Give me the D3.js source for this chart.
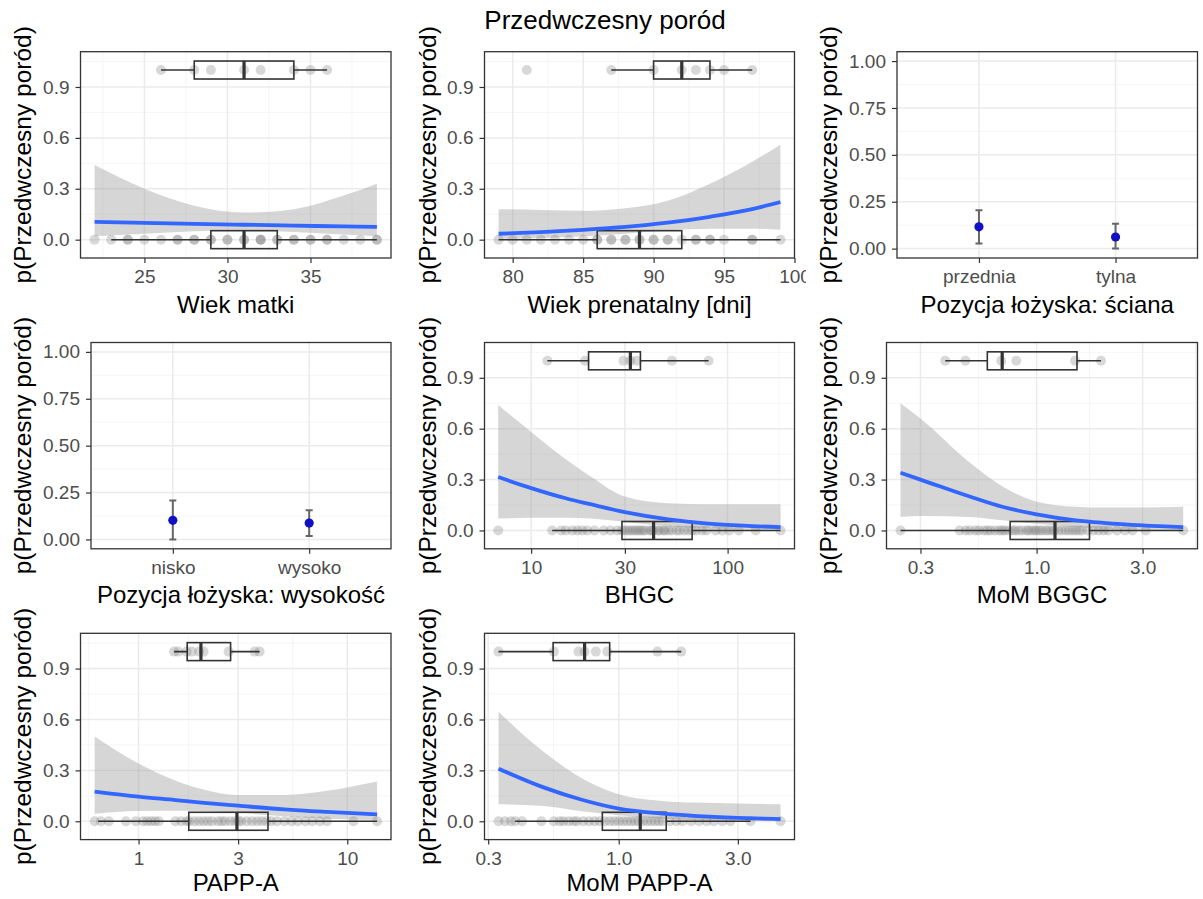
<!DOCTYPE html>
<html>
<head>
<meta charset="utf-8">
<script src="https://cdn.jsdelivr.net/npm/d3@7"></script>
<style>
  body { margin: 0; background: #fff; }
  text { font-family: "Liberation Sans", Arial, sans-serif; }
</style>
</head>
<body>
<div id="chart"></div>
<script>
// ---- data ----
const yTitle = 'p(Przedwczesny poród)';
const mainTitle = 'Przedwczesny poród';

// Wiek matki
const agePts0 = [22, 23, 24, 24, 25, 26, 27, 27, 28, 28, 29, 29, 30, 30, 31, 31, 32, 32, 32, 33, 33, 34, 34, 35, 35, 36, 36, 37, 38, 39, 39];
const agePts1 = [26, 28, 29, 31, 32, 34, 35, 36];
const ageBox0 = [23, 29, 31, 33, 39];
const ageBox1 = [26, 28, 31, 34, 36];
const ageFitX = [22, 25, 28, 31, 34, 37, 39];
const ageFit = [0.105, 0.099, 0.093, 0.088, 0.083, 0.078, 0.075];
const ageLo = [0.02, 0.035, 0.05, 0.055, 0.045, 0.03, 0.02];
const ageHi = [0.44, 0.30, 0.20, 0.16, 0.18, 0.26, 0.33];

// Wiek prenatalny [dni]
const gaPts0 = [79, 80, 81, 82, 83, 84, 85, 86, 86, 87, 87, 88, 88, 89, 89, 90, 90, 91, 91, 92, 93, 93, 94, 94, 95, 97, 97, 99];
const gaPts1 = [81, 87, 90, 92, 93, 94, 95, 97];
const gaBox0 = [79, 86, 89, 92, 99];
const gaBox1 = [87, 90, 92, 94, 97];
const gaFitX = [79, 82, 85, 88, 91, 94, 97, 99];
const gaFit = [0.035, 0.045, 0.058, 0.075, 0.10, 0.135, 0.18, 0.222];
const gaLo = [0.005, 0.01, 0.02, 0.035, 0.055, 0.065, 0.065, 0.058];
const gaHi = [0.18, 0.175, 0.17, 0.185, 0.23, 0.33, 0.46, 0.56];

// Pozycja łożyska: ściana
const wallCats = ['przednia', 'tylna'];
const wallEst = [0.116, 0.062];
const wallLo = [0.027, 0.0];
const wallHi = [0.205, 0.132];

// Pozycja łożyska: wysokość
const heightCats = ['nisko', 'wysoko'];
const heightEst = [0.102, 0.087];
const heightLo = [0.0, 0.018];
const heightHi = [0.207, 0.155];

// BHGC
const bhgcPts0 = [6.8, 12.8, 14.2, 15, 16.2, 17.2, 18.2, 19.3, 21, 23.4, 25.3, 27.4, 29, 30, 31, 32, 33, 34, 35, 36, 37, 38, 40, 41, 42, 44, 45, 47, 48, 50, 52, 55, 57, 60, 63, 66, 69, 74, 78, 87, 94, 102, 114, 139, 186];
const bhgcPts1 = [12.1, 18.8, 29.5, 32, 34.5, 52, 80];
const bhgcBox0 = [12.8, 29, 42, 66, 186];
const bhgcBox1 = [12.1, 19.6, 32, 36, 80];
const bhgcFitX = [6.8, 10, 15, 20, 30, 50, 80, 120, 186];
const bhgcFit = [0.315, 0.25, 0.19, 0.155, 0.108, 0.065, 0.04, 0.028, 0.02];
const bhgcLo = [0.07, 0.075, 0.075, 0.07, 0.05, 0.025, 0.012, 0.006, 0.003];
const bhgcHi = [0.74, 0.58, 0.42, 0.32, 0.20, 0.16, 0.155, 0.155, 0.155];

// MoM BGGC
const momBggcPts0 = [0.244, 0.45, 0.48, 0.5, 0.53, 0.55, 0.58, 0.6, 0.62, 0.65, 0.68, 0.7, 0.72, 0.75, 0.78, 0.8, 0.83, 0.86, 0.9, 0.92, 0.95, 0.98, 1.0, 1.03, 1.06, 1.1, 1.13, 1.17, 1.2, 1.25, 1.3, 1.35, 1.4, 1.45, 1.5, 1.55, 1.6, 1.7, 1.8, 1.9, 2.0, 2.1, 2.3, 2.5, 2.7, 3.1, 4.57];
const momBggcPts1 = [0.388, 0.478, 0.693, 0.81, 1.49, 1.95];
const momBggcBox0 = [0.244, 0.76, 1.21, 1.73, 4.57];
const momBggcBox1 = [0.388, 0.60, 0.70, 1.52, 1.95];
const momBggcFitX = [0.244, 0.3, 0.5, 0.7, 1.0, 1.5, 2, 3, 4.57];
const momBggcFit = [0.34, 0.30, 0.20, 0.14, 0.095, 0.06, 0.045, 0.03, 0.02];
const momBggcLo = [0.08, 0.085, 0.08, 0.06, 0.04, 0.02, 0.01, 0.004, 0.002];
const momBggcHi = [0.75, 0.66, 0.40, 0.26, 0.17, 0.14, 0.135, 0.135, 0.14];

// PAPP-A
const pappPts0 = [0.616, 0.66, 0.72, 0.87, 0.97, 1.05, 1.1, 1.15, 1.2, 1.25, 1.5, 1.6, 1.7, 1.75, 1.85, 1.95, 2.05, 2.15, 2.25, 2.4, 2.5, 2.6, 2.75, 2.9, 3.0, 3.1, 3.3, 3.5, 3.7, 3.9, 4.1, 4.3, 4.6, 5.0, 5.4, 5.8, 6.3, 6.8, 7.4, 8.0, 10.7, 13.9];
const pappPts1 = [1.48, 1.55, 1.7, 1.8, 1.95, 2.05, 2.7, 3.6, 3.8];
const pappBox0 = [0.64, 1.74, 2.96, 4.17, 13.9];
const pappBox1 = [1.48, 1.71, 1.99, 2.76, 3.8];
const pappFitX = [0.616, 1, 1.5, 2, 3, 5, 8, 13.9];
const pappFit = [0.175, 0.145, 0.125, 0.11, 0.092, 0.07, 0.055, 0.04];
const pappLo = [0.045, 0.06, 0.062, 0.06, 0.05, 0.03, 0.015, 0.007];
const pappHi = [0.50, 0.34, 0.24, 0.19, 0.155, 0.155, 0.18, 0.235];

// MoM PAPP-A
const momPappPts0 = [0.33, 0.35, 0.37, 0.385, 0.41, 0.49, 0.55, 0.58, 0.6, 0.63, 0.66, 0.68, 0.72, 0.76, 0.8, 0.84, 0.88, 0.92, 0.96, 1.0, 1.04, 1.08, 1.12, 1.16, 1.2, 1.25, 1.3, 1.35, 1.4, 1.45, 1.5, 1.6, 1.7, 1.8, 1.95, 2.1, 2.25, 2.4, 2.6, 2.8, 3.37, 4.45];
const momPappPts1 = [0.33, 0.55, 0.69, 0.73, 0.81, 0.9, 1.43, 1.78];
const momPappBox0 = [0.385, 0.86, 1.22, 1.55, 3.37];
const momPappBox1 = [0.33, 0.546, 0.73, 0.92, 1.78];
const momPappFitX = [0.33, 0.5, 0.7, 1.0, 1.5, 2, 3, 4.45];
const momPappFit = [0.31, 0.20, 0.13, 0.075, 0.045, 0.032, 0.02, 0.013];
const momPappLo = [0.10, 0.09, 0.06, 0.035, 0.015, 0.008, 0.003, 0.001];
const momPappHi = [0.645, 0.41, 0.26, 0.16, 0.12, 0.11, 0.105, 0.10];

// ---- layout ----
const width = 1203;
const height = 899;
const colLeft = [0, 404, 806];
const colRight = [391, 794.5, 1197.5];
const rowTop = [51.7, 342.5, 633.3];
const panelH = 206.3;
const xTitleBase = [313, 603, 891];
const yTitleX = [31, 436, 837];

const fontTick = 19;
const fontXTitle = 24;
const fontYTitle = 24.5;

const panels = [
  { row: 0, col: 0, kind: 'cont', log: false, domain: [21.15, 39.85], ticks: [25, 30, 35], minor: [22.5, 27.5, 32.5, 37.5], fmt: d3.format('d'),
    pts0: agePts0, pts1: agePts1, box0: ageBox0, box1: ageBox1, fx: ageFitX, fit: ageFit, lo: ageLo, hi: ageHi, title: 'Wiek matki' },
  { row: 0, col: 1, kind: 'cont', log: false, domain: [78, 100], ticks: [80, 85, 90, 95, 100], minor: [82.5, 87.5, 92.5, 97.5], fmt: d3.format('d'),
    pts0: gaPts0, pts1: gaPts1, box0: gaBox0, box1: gaBox1, fx: gaFitX, fit: gaFit, lo: gaLo, hi: gaHi, title: 'Wiek prenatalny [dni]' },
  { row: 0, col: 2, kind: 'cat', cats: wallCats, est: wallEst, lo: wallLo, hi: wallHi, title: 'Pozycja łożyska: ściana' },
  { row: 1, col: 0, kind: 'cat', cats: heightCats, est: heightEst, lo: heightLo, hi: heightHi, title: 'Pozycja łożyska: wysokość' },
  { row: 1, col: 1, kind: 'cont', log: true, domain: [5.79, 219], ticks: [10, 30, 100], fmt: d3.format('d'),
    pts0: bhgcPts0, pts1: bhgcPts1, box0: bhgcBox0, box1: bhgcBox1, fx: bhgcFitX, fit: bhgcFit, lo: bhgcLo, hi: bhgcHi, title: 'BHGC' },
  { row: 1, col: 2, kind: 'cont', log: true, domain: [0.211, 5.30], ticks: [0.3, 1, 3], fmt: d3.format('.1f'),
    pts0: momBggcPts0, pts1: momBggcPts1, box0: momBggcBox0, box1: momBggcBox1, fx: momBggcFitX, fit: momBggcFit, lo: momBggcLo, hi: momBggcHi, title: 'MoM BGGC' },
  { row: 2, col: 0, kind: 'cont', log: true, domain: [0.527, 16.2], ticks: [1, 3, 10], fmt: d3.format('d'),
    pts0: pappPts0, pts1: pappPts1, box0: pappBox0, box1: pappBox1, fx: pappFitX, fit: pappFit, lo: pappLo, hi: pappHi, title: 'PAPP-A' },
  { row: 2, col: 1, kind: 'cont', log: true, domain: [0.290, 5.06], ticks: [0.3, 1, 3], fmt: d3.format('.1f'),
    pts0: momPappPts0, pts1: momPappPts1, box0: momPappBox0, box1: momPappBox1, fx: momPappFitX, fit: momPappFit, lo: momPappLo, hi: momPappHi, title: 'MoM PAPP-A' }
];

const svg = d3.select('#chart')
  .append('svg')
  .attr('width', width)
  .attr('height', height)
  .style('background', '#fff');

const defs = svg.append('defs');

// overall title
svg.append('text')
  .attr('x', 605)
  .attr('y', 29)
  .attr('text-anchor', 'middle')
  .attr('font-size', 26)
  .attr('fill', '#000')
  .text(mainTitle);

// log minor breaks = midpoints in log space (like ggplot)
function logMinor(ticks, domain) {
  const lt = ticks.map(Math.log10);
  const out = [];
  for (let i = 0; i < lt.length - 1; i++) out.push((lt[i] + lt[i + 1]) / 2);
  out.push(lt[0] - (lt[1] - lt[0]) / 2);
  out.push(lt[lt.length - 1] + (lt[lt.length - 1] - lt[lt.length - 2]) / 2);
  const [a, b] = domain.map(Math.log10);
  return out.filter((v) => v > a && v < b).map((v) => Math.pow(10, v));
}

function styleAxis(g) {
  g.select('.domain').remove();
  g.selectAll('.tick line').attr('stroke', '#333').attr('stroke-width', 1.2);
  g.selectAll('.tick text')
    .attr('fill', '#4d4d4d')
    .attr('font-size', fontTick)
    .attr('font-family', '"Liberation Sans", Arial, sans-serif');
}

panels.forEach((p, i) => {
  // only the middle column needs its "100" tick label cut at the cell edge
  const cellW = p.col === 1 ? colLeft[2] - colLeft[1] : 420;
  defs.append('clipPath').attr('id', `cell${i}`)
    .append('rect')
    .attr('x', colLeft[p.col]).attr('y', 0)
    .attr('width', cellW).attr('height', height);

  const cell = svg.append('g').attr('clip-path', `url(#cell${i})`);

  const top = rowTop[p.row];
  const bottom = top + panelH;
  // tick labels "1.00" are wider than "0.9" so the panel starts further right
  const left = colLeft[p.col] + (p.kind === 'cat' ? 91 : 80.5);
  const right = colRight[p.col];

  const y = d3.scaleLinear()
    .domain(p.kind === 'cat' ? [-0.05, 1.05] : [-0.108, 1.108])
    .range([bottom, top]);
  const yTicks = p.kind === 'cat' ? [0, 0.25, 0.5, 0.75, 1] : [0, 0.3, 0.6, 0.9];
  const yMinor = p.kind === 'cat' ? [0.125, 0.375, 0.625, 0.875] : [0.15, 0.45, 0.75, 1.05];
  const yFmt = p.kind === 'cat' ? d3.format('.2f') : d3.format('.1f');

  let x;
  let xMinor = [];
  if (p.kind === 'cat') {
    x = d3.scalePoint().domain(p.cats).range([left, right]).padding(0.6);
  } else if (p.log) {
    x = d3.scaleLog().domain(p.domain).range([left, right]);
    xMinor = logMinor(p.ticks, p.domain);
  } else {
    x = d3.scaleLinear().domain(p.domain).range([left, right]);
    xMinor = p.minor;
  }

  defs.append('clipPath').attr('id', `panel${i}`)
    .append('rect')
    .attr('x', left).attr('y', top)
    .attr('width', right - left).attr('height', bottom - top);

  const plot = cell.append('g').attr('clip-path', `url(#panel${i})`);

  // grid
  plot.selectAll('.ymin').data(yMinor).enter().append('line')
    .attr('x1', left).attr('x2', right)
    .attr('y1', (d) => y(d)).attr('y2', (d) => y(d))
    .attr('stroke', '#f2f2f2').attr('stroke-width', 0.8);
  plot.selectAll('.xmin').data(xMinor).enter().append('line')
    .attr('y1', top).attr('y2', bottom)
    .attr('x1', (d) => x(d)).attr('x2', (d) => x(d))
    .attr('stroke', '#f2f2f2').attr('stroke-width', 0.8);
  plot.selectAll('.ymaj').data(yTicks).enter().append('line')
    .attr('x1', left).attr('x2', right)
    .attr('y1', (d) => y(d)).attr('y2', (d) => y(d))
    .attr('stroke', '#ebebeb').attr('stroke-width', 1.5);
  const xMajor = p.kind === 'cat' ? p.cats : p.ticks;
  plot.selectAll('.xmaj').data(xMajor).enter().append('line')
    .attr('y1', top).attr('y2', bottom)
    .attr('x1', (d) => x(d)).attr('x2', (d) => x(d))
    .attr('stroke', '#ebebeb').attr('stroke-width', 1.5);

  if (p.kind === 'cont') {
    const rows = p.fx.map((v, j) => ({ x: v, fit: p.fit[j], lo: p.lo[j], hi: p.hi[j] }));

    // confidence band
    plot.append('path')
      .datum(rows)
      .attr('d', d3.area()
        .x((d) => x(d.x))
        .y0((d) => y(d.lo))
        .y1((d) => y(d.hi))
        .curve(d3.curveMonotoneX))
      .attr('fill', '#999999')
      .attr('fill-opacity', 0.4);

    // raw points
    const pts = p.pts0.map((v) => [v, 0]).concat(p.pts1.map((v) => [v, 1]));
    plot.selectAll('.pt').data(pts).enter().append('circle')
      .attr('cx', (d) => x(d[0]))
      .attr('cy', (d) => y(d[1]))
      .attr('r', 5)
      .attr('fill', '#7f7f7f')
      .attr('fill-opacity', 0.3);

    // horizontal boxplots at y = 0 and y = 1
    [[p.box0, 0], [p.box1, 1]].forEach(([b, lvl]) => {
      const g = plot.append('g');
      const yc = y(lvl);
      const hh = y(lvl - 0.053) - yc;
      g.append('line')
        .attr('x1', x(b[0])).attr('x2', x(b[1]))
        .attr('y1', yc).attr('y2', yc)
        .attr('stroke', '#333').attr('stroke-width', 1.6);
      g.append('line')
        .attr('x1', x(b[3])).attr('x2', x(b[4]))
        .attr('y1', yc).attr('y2', yc)
        .attr('stroke', '#333').attr('stroke-width', 1.6);
      g.append('rect')
        .attr('x', x(b[1])).attr('y', yc - hh)
        .attr('width', x(b[3]) - x(b[1])).attr('height', 2 * hh)
        .attr('fill', 'none')
        .attr('stroke', '#333').attr('stroke-width', 1.6);
      g.append('line')
        .attr('x1', x(b[2])).attr('x2', x(b[2]))
        .attr('y1', yc - hh).attr('y2', yc + hh)
        .attr('stroke', '#333').attr('stroke-width', 3.2);
    });

    // fitted logistic curve
    plot.append('path')
      .datum(rows)
      .attr('d', d3.line()
        .x((d) => x(d.x))
        .y((d) => y(d.fit))
        .curve(d3.curveMonotoneX))
      .attr('fill', 'none')
      .attr('stroke', '#3366FF')
      .attr('stroke-width', 3.8);
  } else {
    const rows = p.cats.map((c, j) => ({ c, est: p.est[j], lo: p.lo[j], hi: p.hi[j] }));
    const cap = 3.5;
    const eb = plot.selectAll('.eb').data(rows).enter().append('g');
    eb.append('line')
      .attr('x1', (d) => x(d.c)).attr('x2', (d) => x(d.c))
      .attr('y1', (d) => y(d.lo)).attr('y2', (d) => y(d.hi))
      .attr('stroke', '#666').attr('stroke-width', 2);
    eb.append('line')
      .attr('x1', (d) => x(d.c) - cap).attr('x2', (d) => x(d.c) + cap)
      .attr('y1', (d) => y(d.lo)).attr('y2', (d) => y(d.lo))
      .attr('stroke', '#666').attr('stroke-width', 2);
    eb.append('line')
      .attr('x1', (d) => x(d.c) - cap).attr('x2', (d) => x(d.c) + cap)
      .attr('y1', (d) => y(d.hi)).attr('y2', (d) => y(d.hi))
      .attr('stroke', '#666').attr('stroke-width', 2);
    eb.append('circle')
      .attr('cx', (d) => x(d.c))
      .attr('cy', (d) => y(d.est))
      .attr('r', 4.6)
      .attr('fill', '#1010c4');
  }

  // panel border
  cell.append('rect')
    .attr('x', left).attr('y', top)
    .attr('width', right - left).attr('height', bottom - top)
    .attr('fill', 'none')
    .attr('stroke', '#333')
    .attr('stroke-width', 1.3);

  // axes
  const yAxis = d3.axisLeft(y).tickValues(yTicks).tickFormat(yFmt).tickSize(5).tickPadding(6);
  cell.append('g').attr('transform', `translate(${left},0)`).call(yAxis).call(styleAxis);

  const xAxis = d3.axisBottom(x).tickSize(5).tickPadding(6.5);
  if (p.kind === 'cont') xAxis.tickValues(p.ticks).tickFormat(p.fmt);
  cell.append('g').attr('transform', `translate(0,${bottom})`).call(xAxis).call(styleAxis);

  // axis titles
  cell.append('text')
    .attr('x', (left + right) / 2)
    .attr('y', xTitleBase[p.row])
    .attr('text-anchor', 'middle')
    .attr('font-size', fontXTitle)
    .attr('fill', '#000')
    .text(p.title);

  cell.append('text')
    .attr('transform', `translate(${yTitleX[p.col]},${(top + bottom) / 2}) rotate(-90)`)
    .attr('text-anchor', 'middle')
    .attr('font-size', fontYTitle)
    .attr('fill', '#000')
    .text(yTitle);
});
</script>
</body>
</html>
